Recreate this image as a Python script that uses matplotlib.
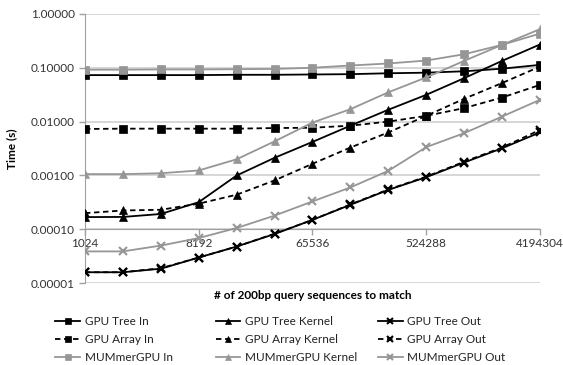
import numpy as np
import matplotlib.pyplot as plt

plt.rcParams['font.family'] = ['Lato', 'DejaVu Sans']

sizes = ['1024', '2048', '4096', '8192', '16384', '32768', '65536', '131072',
         '262144', '524288', '1048576', '2097152', '4194304']

tree_in = [0.073, 0.073, 0.073, 0.073, 0.074, 0.074, 0.075, 0.076, 0.079, 0.081, 0.086, 0.096, 0.113]
array_in = [0.0073, 0.0074, 0.0074, 0.0074, 0.0074, 0.0076, 0.0077, 0.0084, 0.0100, 0.0128, 0.0178, 0.028, 0.048]
mummer_in = [0.092, 0.092, 0.093, 0.093, 0.094, 0.095, 0.100, 0.110, 0.120, 0.136, 0.178, 0.266, 0.43]

tree_kernel = [0.000169, 0.00017, 0.000193, 0.00032, 0.0010, 0.00213, 0.0042, 0.0084, 0.0166, 0.0314, 0.064, 0.134, 0.27]
array_kernel = [0.00020, 0.000224, 0.000231, 0.00030, 0.00044, 0.00081, 0.00165, 0.0033, 0.0063, 0.0128, 0.0265, 0.052, 0.105]
mummer_kernel = [0.00106, 0.00106, 0.0011, 0.00124, 0.0020, 0.0043, 0.0096, 0.017, 0.035, 0.066, 0.134, 0.266, 0.52]

tree_out = [1.6e-5, 1.6e-5, 1.86e-5, 3.0e-5, 4.8e-5, 8.2e-5, 1.5e-4, 2.86e-4, 5.4e-4, 9.3e-4, 1.74e-3, 3.2e-3, 6.3e-3]
array_out = [1.6e-5, 1.6e-5, 1.9e-5, 3.0e-5, 4.8e-5, 8.3e-5, 1.5e-4, 2.9e-4, 5.5e-4, 9.5e-4, 1.8e-3, 3.3e-3, 7.0e-3]
mummer_out = [3.9e-5, 3.9e-5, 5.0e-5, 6.9e-5, 1.06e-4, 1.8e-4, 3.3e-4, 6.0e-4, 1.22e-3, 3.36e-3, 6.1e-3, 0.0124, 0.0254]

black = 'black'
grey = '#969696'
dash = (0, (3, 2))

fig = plt.figure(figsize=(5.63, 3.65), dpi=100)
ax = fig.add_axes([0.151, 0.224, 0.808, 0.738])

x = np.arange(len(sizes))

series = [
    (tree_in, 'GPU Tree In', black, '-', 's'),
    (array_in, 'GPU Array In', black, dash, 's'),
    (mummer_in, 'MUMmerGPU In', grey, '-', 's'),
    (tree_kernel, 'GPU Tree Kernel', black, '-', '^'),
    (array_kernel, 'GPU Array Kernel', black, dash, '^'),
    (mummer_kernel, 'MUMmerGPU Kernel', grey, '-', '^'),
    (tree_out, 'GPU Tree Out', black, '-', 'x'),
    (array_out, 'GPU Array Out', black, dash, 'x'),
    (mummer_out, 'MUMmerGPU Out', grey, '-', 'x'),
]
lines = []
for vals, name, c, ls, m in series:
    ln, = ax.plot(x, vals, color=c, linestyle=ls, linewidth=1.3, marker=m,
                  markersize=6, markeredgewidth=1.5 if m == 'x' else 0.5,
                  markerfacecolor=c, markeredgecolor=c, label=name, zorder=3)
    lines.append(ln)

ax.set_yscale('log')
ax.set_ylim(1e-5, 1)
ax.set_xlim(0, 12)
ax.set_yticks([1e-5, 1e-4, 1e-3, 1e-2, 1e-1, 1])
ax.set_yticklabels(['0.00001', '0.00010', '0.00100', '0.01000', '0.10000', '1.00000'])
ax.yaxis.set_minor_locator(plt.NullLocator())
ax.yaxis.grid(True, color='#d0d0d0', linewidth=1.2, zorder=0)
ax.set_axisbelow(True)

ax.set_xticks(x[::3])
ax.set_xticklabels(sizes[::3])

for s in ['top', 'right']:
    ax.spines[s].set_visible(False)
ax.spines['left'].set_color('#a0a0a0')
ax.spines['bottom'].set_color('#a0a0a0')
ax.spines['bottom'].set_position(('data', 1e-4))
ax.tick_params(axis='both', colors='#a0a0a0', labelcolor='#333333', labelsize=8.5, length=4, width=1)
ax.tick_params(axis='x', pad=2)

ax.set_ylabel('Time (s)', fontsize=8.5, fontweight='bold', labelpad=10)
fig.text(0.555, 0.19, '# of 200bp query sequences to match', fontsize=8.5,
         fontweight='bold', ha='center', va='center')

# one legend column per stage: In, Kernel, Out
for i, xpos in enumerate([0.098, 0.383, 0.671]):
    leg = fig.legend(handles=lines[3 * i:3 * i + 3], loc='upper left',
                     bbox_to_anchor=(xpos, 0.135), frameon=False, fontsize=8.5,
                     handlelength=2.1, labelspacing=0.6, handletextpad=0.4,
                     borderpad=0, borderaxespad=0, markerscale=0.8)
    for t in leg.get_texts():
        t.set_color('#222222')

fig.savefig('out.png', dpi=100)
